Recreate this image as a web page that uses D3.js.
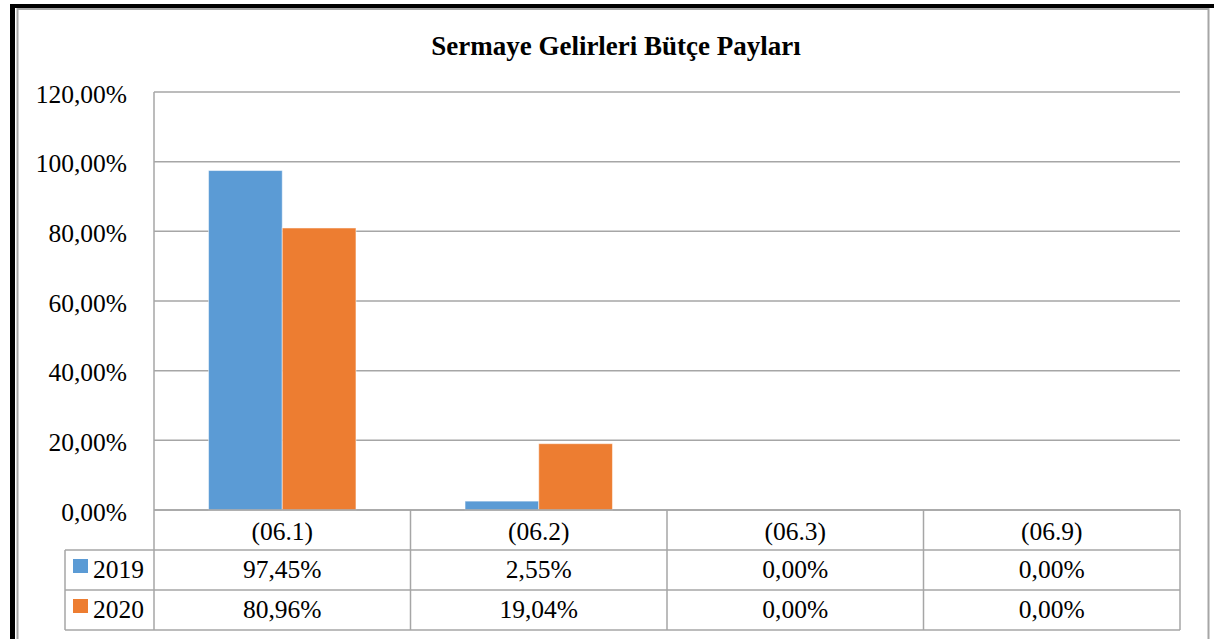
<!DOCTYPE html>
<html>
<head>
<meta charset="utf-8">
<script src="https://cdn.jsdelivr.net/npm/d3@7"></script>
<style>
body{margin:0;background:#fff;}
</style>
</head>
<body>
<script>
const categories=['(06.1)','(06.2)','(06.3)','(06.9)']
const years=['2019','2020']
const values2019=[97.45,2.55,0,0]
const values2020=[80.96,19.04,0,0]
const yTicks=[0,20,40,60,80,100,120]
const colors=['#5B9BD5','#ED7D31']

const series=[values2019,values2020]
const W=1214,H=639
const margin=({top:92,left:154,right:34,bottom:129})
const width=W-margin.left-margin.right,
  height=H-margin.top-margin.bottom
const rowH=40
const FONT='"Liberation Serif", "Times New Roman", "DejaVu Serif", serif'
const FS=25.5
const fmt=v=>d3.format('.2f')(v).replace('.',',')+'%'

let svg=d3.select('body').append('svg')
	.attr('width',W)
	.attr('height',H)
	.style('font-family',FONT)

// outer frame
svg.append('rect').attr('x',10).attr('y',4).attr('width',W).attr('height',4).attr('fill','#000')
svg.append('rect').attr('x',10).attr('y',4).attr('width',5).attr('height',H).attr('fill','#000')
svg.append('line').attr('x1',17.5).attr('x2',17.5).attr('y1',8).attr('y2',H).attr('stroke','#a6a6a6').attr('stroke-width',2)
svg.append('line').attr('x1',17).attr('x2',1209).attr('y1',9).attr('y2',9).attr('stroke','#a6a6a6').attr('stroke-width',2)
svg.append('line').attr('x1',1208.5).attr('x2',1208.5).attr('y1',8).attr('y2',H).attr('stroke','#a6a6a6').attr('stroke-width',2)

svg.append('text')
	.attr('x',616).attr('y',55)
	.attr('text-anchor','middle')
	.style('font-family',FONT)
	.attr('font-size',27).attr('font-weight','bold')
	.text('Sermaye Gelirleri Bütçe Payları')

let g=svg.append('g')
	.attr('transform','translate('+margin.left+','+margin.top+')')

let xScale=d3.scaleBand()
	.domain(categories)
	.range([0,width])

let xInner=d3.scaleBand()
	.domain(years)
	.range([0,xScale.bandwidth()])
	.paddingInner(0)
	.paddingOuter(0.74)

let yScale=d3.scaleLinear()
	.domain([0,120])
	.range([height,0])

let yAxis=d3.axisLeft()
	.scale(yScale)
	.tickValues(yTicks)
	.tickFormat(fmt)
	.tickSize(0)
	.tickPadding(27)

g.append('g')
	.call(yAxis)
	.call(g=>g.select('.domain').remove())
	.call(g=>g.selectAll('text').attr('font-size',FS).attr('dy','0.4em').style('font-family',FONT).attr('fill','#000'))

// gridlines
g.append('g').selectAll('line')
	.data(yTicks)
	.join('line')
	.attr('x1',0).attr('x2',width)
	.attr('y1',d=>yScale(d)).attr('y2',d=>yScale(d))
	.attr('stroke','#a6a6a6').attr('stroke-width',1.5)

// bars
years.forEach((yr,i)=>{
	g.append('g').selectAll('rect')
		.data(series[i].map((v,j)=>({cat:categories[j],v})))
		.join('rect')
		.attr('x',d=>xScale(d.cat)+xInner(yr))
		.attr('y',d=>yScale(d.v))
		.attr('width',xInner.bandwidth())
		.attr('height',d=>height-yScale(d.v))
		.attr('fill',colors[i])
		.attr('stroke',d=>d.v>0?'#fff':'none')
		.attr('stroke-opacity',0.5)
		.attr('stroke-width',1)
})

// data table
const tbl=g.append('g').attr('transform',`translate(0,${height})`)
const legendLeft=65-margin.left
const lineC='#a6a6a6'

tbl.append('line').attr('x1',0).attr('x2',width).attr('y1',0).attr('y2',0).attr('stroke',lineC).attr('stroke-width',1.5)
;[1,2,3].forEach(r=>{
	tbl.append('line').attr('x1',legendLeft).attr('x2',width)
		.attr('y1',r*rowH).attr('y2',r*rowH)
		.attr('stroke',lineC).attr('stroke-width',1.5)
})
tbl.append('line').attr('x1',0).attr('x2',0).attr('y1',-height).attr('y2',3*rowH).attr('stroke',lineC).attr('stroke-width',1.5)
tbl.append('line').attr('x1',legendLeft).attr('x2',legendLeft).attr('y1',rowH).attr('y2',3*rowH).attr('stroke',lineC).attr('stroke-width',1.5)
tbl.selectAll('.vline')
	.data(categories)
	.join('line')
	.attr('x1',d=>xScale(d)+xScale.bandwidth()).attr('x2',d=>xScale(d)+xScale.bandwidth())
	.attr('y1',0).attr('y2',3*rowH)
	.attr('stroke',lineC).attr('stroke-width',1.5)

tbl.selectAll('.hdr')
	.data(categories)
	.join('text')
	.attr('x',d=>xScale(d)+xScale.bandwidth()/2)
	.attr('y',30)
	.attr('text-anchor','middle')
	.style('font-family',FONT)
	.attr('font-size',FS)
	.text(d=>d)

years.forEach((yr,i)=>{
	const y0=(i+1)*rowH
	tbl.append('rect')
		.attr('x',legendLeft+8).attr('y',y0+9)
		.attr('width',15).attr('height',14)
		.attr('fill',colors[i])
	tbl.append('text')
		.attr('x',legendLeft+28).attr('y',y0+28)
		.style('font-family',FONT)
		.attr('font-size',FS)
		.text(yr)
	tbl.selectAll('.v'+i)
		.data(series[i].map((v,j)=>({cat:categories[j],v})))
		.join('text')
		.attr('x',d=>xScale(d.cat)+xScale.bandwidth()/2)
		.attr('y',y0+28)
		.attr('text-anchor','middle')
		.style('font-family',FONT)
		.attr('font-size',FS)
		.text(d=>fmt(d.v))
})
</script>
</body>
</html>
